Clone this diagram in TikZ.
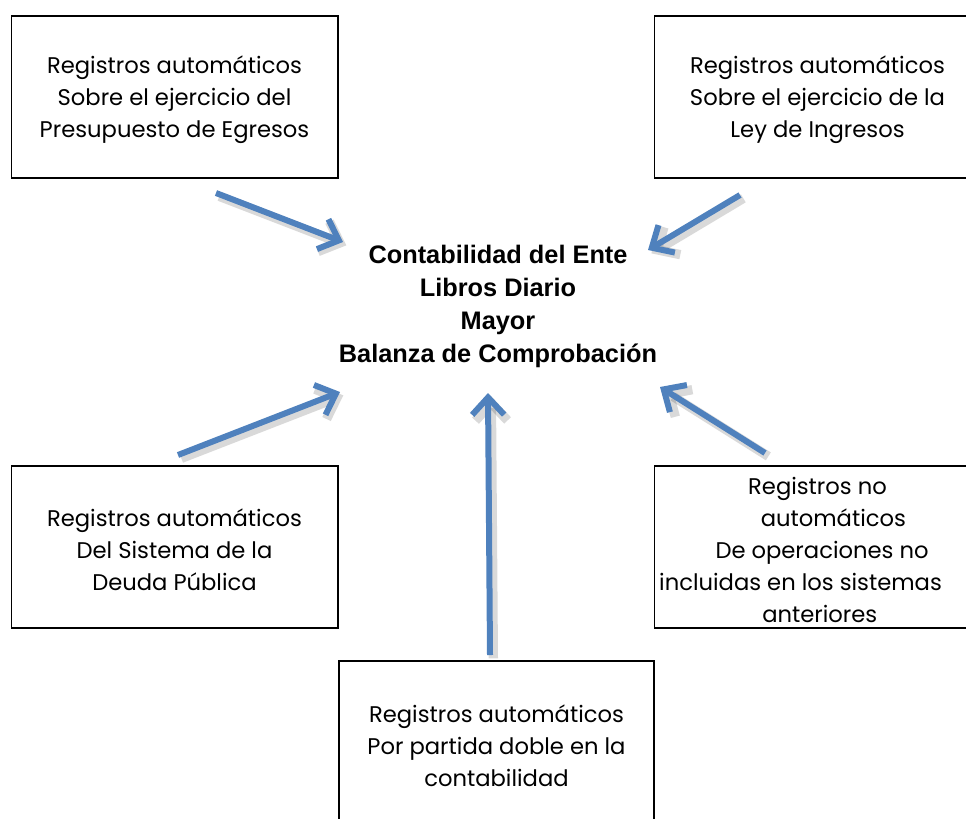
\documentclass[tikz,border=0pt]{standalone}
\usepackage{fontspec}
\setmainfont{Poppins}
\newfontfamily\titlefont{Liberation Sans}
\usetikzlibrary{arrows.meta}
\definecolor{flowblue}{RGB}{79,129,189}
\tikzset{
  regbox/.style={draw, line width=1pt, minimum width=245pt, minimum height=121.5pt, inner sep=0pt},
  regtext/.style={inner sep=0pt, align=center, font=\fontsize{17}{24}\selectfont},
  flow/.style={flowblue, line width=4.5pt,
    -{Straight Barb[length=13pt, width=24pt]},
    preaction={draw=black, opacity=.15, line width=7pt,
      transform canvas={shift={(2.5pt,-2.5pt)}}}}
}
\begin{document}
\begin{tikzpicture}[x=0.75pt, y=-0.75pt]
\useasboundingbox (0,0) rectangle (966,818);
\clip (0,0) rectangle (966,818);
% cajas de registros
\node[regbox] (egresos) at (174.5,97) {};
\node[regbox] (ingresos) at (817.5,97) {};
\node[regbox] (deuda) at (174.5,547) {};
\node[regbox] (otros) at (817.5,547) {};
\node[regbox, minimum width=236.25pt, minimum height=123.75pt] (partida) at (496.5,743.5) {};
\node[regtext] (egresos-txt) at ([yshift=-2pt]egresos.center) {Registros automáticos\\Sobre el ejercicio del\\Presupuesto de Egresos};
\node[regtext] (ingresos-txt) at ([yshift=-2pt]ingresos.center) {Registros automáticos\\Sobre el ejercicio de la\\Ley de Ingresos};
\node[regtext] (deuda-txt) at ([yshift=-2pt]deuda.center) {Registros automáticos\\Del Sistema de la\\Deuda Pública};
\node[regtext] (otros-txt) at ([yshift=-2pt]otros.center) {Registros no\\\hspace*{1.4em}automáticos\\\hspace*{0.4em}De operaciones no\\incluidas en los sistemas\rule{1.5em}{0pt}\\\hspace*{0.2em}anteriores};
\node[regtext] (partida-txt) at ([yshift=-2pt]partida.center) {Registros automáticos\\Por partida doble en la\\contabilidad};
% contabilidad
\node[font=\titlefont\bfseries\fontsize{19}{24.75}\selectfont, align=center] (ente) at (498,306)
  {Contabilidad del Ente\\Libros Diario\\Mayor\\Balanza de Comprobación};
% flechas
\coordinate (egresos-out) at (216,193);
\coordinate (ente-nw) at (343,242);
\coordinate (ingresos-out) at (740,195);
\coordinate (ente-ne) at (648,250);
\coordinate (deuda-out) at (178,455);
\coordinate (ente-sw) at (340,392);
\coordinate (otros-out) at (765,453);
\coordinate (ente-se) at (660,387);
\coordinate (partida-out) at (490,655);
\coordinate (ente-s) at (488,393);
\draw[flow] (egresos-out) -- (ente-nw);
\draw[flow] (ingresos-out) -- (ente-ne);
\draw[flow] (deuda-out) -- (ente-sw);
\draw[flow] (otros-out) -- (ente-se);
\draw[flow] (partida-out) -- (ente-s);
\end{tikzpicture}
\end{document}
